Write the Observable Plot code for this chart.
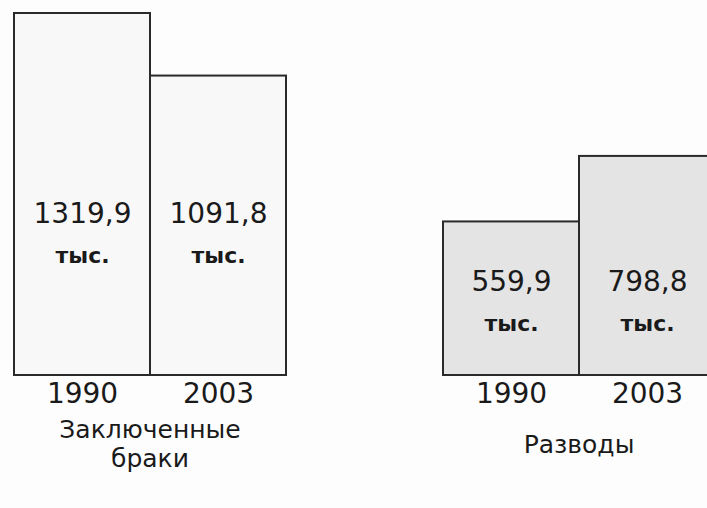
<!DOCTYPE html>
<html>
<head>
<meta charset="utf-8">
<script src="https://cdn.jsdelivr.net/npm/d3@7"></script>
<script src="https://cdn.jsdelivr.net/npm/@observablehq/plot@0.6"></script>
<style>
  html, body { margin: 0; padding: 0; background: #fdfdfd; overflow: hidden; }
  #chart { width: 707px; height: 508px; overflow: hidden; }
  #chart svg { display: block; max-width: none !important; width: 716px; height: 508px; }
</style>
</head>
<body>
<div id="chart"></div>
<script>
const groups = ["Заключенные браки", "Разводы"];
const groupLabels = ["Заключенные\nбраки", "Разводы"];
const years = ["1990", "2003"];
const marriages = [1319.9, 1091.8];
const divorces = [559.9, 798.8];
const unitLabel = "тыс.";

const series = [marriages, divorces];
const rows = [];
groups.forEach((g, gi) => {
  const groupMin = d3.min(series[gi]);
  years.forEach((yr, yi) => {
    rows.push({
      group: g,
      year: yr,
      value: series[gi][yi],
      labelPos: groupMin * 0.47,
      text: series[gi][yi].toFixed(1).replace(".", ",")
    });
  });
});
const groupRows = groups.map((g, i) => ({group: g, label: groupLabels[i]}));

const font = "DejaVu Sans, sans-serif";

const chart = Plot.plot({
  width: 716,
  height: 508,
  marginLeft: 13,
  marginRight: 0,
  marginTop: 13,
  marginBottom: 133,
  style: {background: "transparent", fontFamily: font, color: "#1a1a1a"},
  fx: {domain: groups, paddingInner: 0.363, paddingOuter: 0, axis: null, label: null},
  x: {domain: years, padding: 0, axis: null, label: null},
  y: {domain: [0, 1319.9], axis: null, label: null},
  color: {domain: groups, range: ["#f8f8f8", "#e4e4e4"]},
  marks: [
    Plot.barY(rows, {fx: "group", x: "year", y: "value", fill: "group",
      stroke: "#2a2a2a", strokeWidth: 2, inset: 0}),
    Plot.text(rows, {fx: "group", x: "year", y: "labelPos", text: "text",
      dy: -21, fontSize: 28, fill: "#1a1a1a", lineAnchor: "middle"}),
    Plot.text(rows, {fx: "group", x: "year", y: "labelPos", text: () => unitLabel,
      dy: 21, fontSize: 22, fontWeight: "bold", fill: "#1a1a1a", lineAnchor: "middle"}),
    Plot.text(rows, {fx: "group", x: "year", y: () => 0, text: "year",
      dy: 19, fontSize: 28, fill: "#1a1a1a", lineAnchor: "middle"}),
    Plot.text(groupRows, {fx: "group", y: () => 0, text: "label",
      dy: 68, fontSize: 25, lineHeight: 1.17, fill: "#1a1a1a", lineAnchor: "middle"})
  ]
});
document.getElementById("chart").appendChild(chart);
</script>
</body>
</html>
